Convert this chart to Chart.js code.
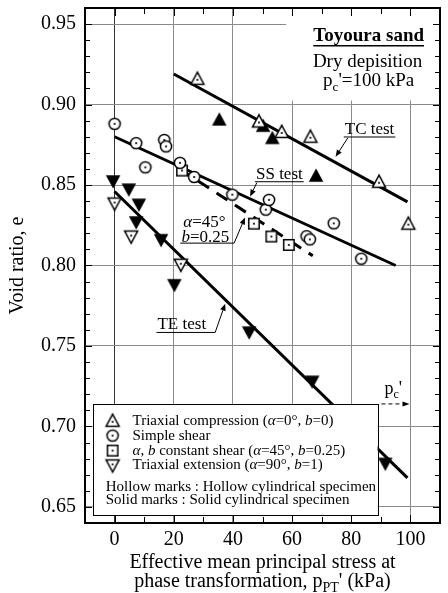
<!DOCTYPE html>
<html><head><meta charset="utf-8">
<script src="https://cdn.jsdelivr.net/npm/chart.js@4.4.1/dist/chart.umd.min.js"></script>
<style>html,body{margin:0;padding:0;background:#fff;}#wrap{width:448px;height:593px;}</style>
</head><body><div id="wrap"><canvas id="c" width="448" height="593"></canvas></div>
<script>
// ---- data ----
const xTickValues = [0, 20, 40, 60, 80, 100];
const yTickValues = [0.65, 0.70, 0.75, 0.80, 0.85, 0.90, 0.95];

const tcHollowX = [28.0, 48.8, 56.5, 66.2, 89.4, 99.3];
const tcHollowY = [0.916, 0.8895, 0.883, 0.880, 0.852, 0.826];
const tcSolidX = [35.4, 50.2, 53.3, 68.1];
const tcSolidY = [0.8905, 0.8866, 0.879, 0.8556];
const ssHollowX = [0.0, 7.3, 10.4, 16.8, 17.4, 22.1, 26.9, 39.8, 51.1, 52.2, 64.9, 66.0, 74.1, 83.4];
const ssHollowY = [0.888, 0.876, 0.861, 0.878, 0.874, 0.8638, 0.855, 0.844, 0.8347, 0.8408, 0.8182, 0.8162, 0.8262, 0.8042];
const abHollowX = [22.8, 47.1, 53.0, 58.9];
const abHollowY = [0.859, 0.826, 0.818, 0.8128];
const teHollowX = [0.0, 5.6, 22.4];
const teHollowY = [0.8385, 0.818, 0.8005];
const teSolidX = [-0.5, 4.8, 8.2, 7.3, 15.7, 20.2, 45.5, 66.8, 91.5];
const teSolidY = [0.8525, 0.8474, 0.838, 0.827, 0.816, 0.788, 0.7586, 0.728, 0.677];

const tcLineX = [20, 99];   const tcLineY = [0.919, 0.8395];
const ssLineX = [0, 95];    const ssLineY = [0.880, 0.800];
const abLineX = [22, 67];   const abLineY = [0.860, 0.806];
const teLineX = [0, 99];    const teLineY = [0.846, 0.668];

const legendLabels = [
  ['Triaxial compression (', {t:'α', it:1}, '=0°, ', {t:'b', it:1}, '=0)'],
  ['Simple shear'],
  [{t:'α', it:1}, ', ', {t:'b', it:1}, ' constant shear (', {t:'α', it:1}, '=45°, ', {t:'b', it:1}, '=0.25)'],
  ['Triaxial extension (', {t:'α', it:1}, '=90°, ', {t:'b', it:1}, '=1)']
];
const legendNotes = ['Hollow marks : Hollow cylindrical specimen', 'Solid marks : Solid cylindrical specimen'];

// ---- helpers ----
const FONT = '"Liberation Serif", "Times New Roman", serif';
const pts = (xs, ys) => xs.map((x, i) => ({x: x, y: ys[i]}));

function marker(shape, filled) {
  const s = 18, c = document.createElement('canvas');
  c.width = s; c.height = s;
  const g = c.getContext('2d');
  const cx = s / 2, cy = s / 2;
  g.lineWidth = 1.5; g.strokeStyle = '#000'; g.fillStyle = filled ? '#000' : '#fff';
  g.beginPath();
  if (shape === 'tri') {
    const w = filled ? 12 : 13, h = filled ? 11 : 12;
    g.moveTo(cx, cy - h * 0.55); g.lineTo(cx + w / 2, cy + h * 0.45); g.lineTo(cx - w / 2, cy + h * 0.45); g.closePath();
  } else if (shape === 'itri') {
    const w = filled ? 12 : 13, h = filled ? 11 : 12;
    g.moveTo(cx, cy + h * 0.55); g.lineTo(cx + w / 2, cy - h * 0.45); g.lineTo(cx - w / 2, cy - h * 0.45); g.closePath();
  } else if (shape === 'circ') {
    g.arc(cx, cy, 5.6, 0, Math.PI * 2);
  } else {
    g.rect(cx - 5.2, cy - 5.2, 10.4, 10.4);
  }
  g.fill(); g.stroke();
  if (!filled) {
    g.beginPath(); g.fillStyle = '#000';
    let dy = 0;
    if (shape === 'tri') dy = 1; if (shape === 'itri') dy = -1;
    g.arc(cx, cy + dy, 1.1, 0, Math.PI * 2); g.fill();
  }
  return c;
}
const M = {
  triH: marker('tri', false), triS: marker('tri', true),
  circH: marker('circ', false), sqH: marker('sq', false),
  itriH: marker('itri', false), itriS: marker('itri', true)
};

function rich(ctx, x, y, parts, size, align, bold) {
  const ps = parts.map(p => typeof p === 'string' ? {t: p} : p);
  const fontOf = p => (p.it ? 'italic ' : '') + (bold ? 'bold ' : '') + (p.sub ? Math.round(size * 0.68) : size) + 'px ' + FONT;
  let w = 0;
  ps.forEach(p => { ctx.font = fontOf(p); p.w = ctx.measureText(p.t).width; w += p.w; });
  let cx = align === 'center' ? x - w / 2 : (align === 'right' ? x - w : x);
  const x0 = cx;
  ctx.textAlign = 'left'; ctx.textBaseline = 'middle'; ctx.fillStyle = '#000';
  ps.forEach(p => {
    ctx.font = fontOf(p);
    ctx.fillText(p.t, cx, y + (p.sub ? size * 0.32 : 0));
    cx += p.w;
  });
  return {x0: x0, w: w};
}

function arrow(ctx, x1, y1, x2, y2, hl, hw, dash) {
  const a = Math.atan2(y2 - y1, x2 - x1);
  const bx = x2 - hl * Math.cos(a), by = y2 - hl * Math.sin(a);
  ctx.save();
  ctx.strokeStyle = '#000'; ctx.fillStyle = '#000'; ctx.lineWidth = 1;
  if (dash) ctx.setLineDash(dash);
  ctx.beginPath(); ctx.moveTo(x1, y1); ctx.lineTo(bx, by); ctx.stroke();
  ctx.setLineDash([]);
  ctx.beginPath();
  ctx.moveTo(x2, y2);
  ctx.lineTo(bx + hw * Math.sin(a), by - hw * Math.cos(a));
  ctx.lineTo(bx - hw * Math.sin(a), by + hw * Math.cos(a));
  ctx.closePath(); ctx.fill();
  ctx.restore();
}

function hline(ctx, x1, x2, y, lw) {
  ctx.save(); ctx.strokeStyle = '#000'; ctx.lineWidth = lw || 1;
  ctx.beginPath(); ctx.moveTo(x1, y); ctx.lineTo(x2, y); ctx.stroke(); ctx.restore();
}

const deco = {
  id: 'deco',
  beforeDatasetsDraw(chart) {
    const ctx = chart.ctx, X = v => chart.scales.x.getPixelForValue(v), Y = v => chart.scales.y.getPixelForValue(v);
    ctx.save(); ctx.fillStyle = '#fff';
    // blank panel behind the material note (top right)
    ctx.fillRect(X(58), Y(0.96), X(110) - X(58), Y(0.9025) - Y(0.96));
    ctx.restore();
  },
  afterDatasetsDraw(chart) {
    const ctx = chart.ctx, a = chart.chartArea;
    const X = v => chart.scales.x.getPixelForValue(v), Y = v => chart.scales.y.getPixelForValue(v);
    ctx.save();
    // minor / major ticks pointing inwards on all four sides
    ctx.strokeStyle = '#000'; ctx.lineWidth = 1;
    for (let i = 64; i <= 96; i++) {
      const py = Math.round(Y(i / 100)) + 0.5, len = (i % 5 === 0) ? 7 : 5;
      ctx.beginPath(); ctx.moveTo(a.left, py); ctx.lineTo(a.left + len, py);
      ctx.moveTo(a.right, py); ctx.lineTo(a.right - len, py); ctx.stroke();
    }
    for (let v = -10; v <= 110; v += 10) {
      const px = Math.round(X(v)) + 0.5, len = (v % 20 === 0) ? 8 : 6;
      ctx.beginPath(); ctx.moveTo(px, a.top); ctx.lineTo(px, a.top + len);
      ctx.moveTo(px, a.bottom); ctx.lineTo(px, a.bottom - len); ctx.stroke();
    }
    // frame
    ctx.lineWidth = 2;
    ctx.strokeRect(a.left, a.top, a.right - a.left, a.bottom - a.top);

    // material note
    let r = rich(ctx, X(85.9), Y(0.9427), ['Toyoura sand'], 19, 'center', true);
    hline(ctx, r.x0, r.x0 + r.w, Y(0.9427) + 10, 1.5);
    rich(ctx, X(85.5), Y(0.9267), ['Dry depisition'], 19, 'center');
    rich(ctx, X(85.9), Y(0.9144), ['p', {t: 'c', sub: 1}, "'=100 kPa"], 19, 'center');

    // TC test label
    r = rich(ctx, X(77.8), Y(0.8842), ['TC test'], 17, 'left');
    hline(ctx, r.x0 - 1, r.x0 + r.w + 1, Y(0.8842) + 7, 1);
    arrow(ctx, X(78.8), Y(0.8792), X(74.7), Y(0.8675), 7, 2.8);

    // SS test label
    r = rich(ctx, X(47.8), Y(0.8564), ['SS test'], 17, 'left');
    hline(ctx, r.x0 - 1, r.x0 + r.w + 1, Y(0.8564) + 7, 1);
    arrow(ctx, X(48.1), Y(0.8515), X(45.8), Y(0.8429), 7, 2.8);

    // alpha = 45, b = 0.25 label
    rich(ctx, X(23.2), Y(0.8268), [{t: 'α', it: 1}, '=45°'], 17, 'left');
    r = rich(ctx, X(22.6), Y(0.8176), [{t: 'b', it: 1}, '=0.25'], 17, 'left');
    hline(ctx, X(22.2), X(40.4), Y(0.8139), 1);
    arrow(ctx, X(40.4), Y(0.8139), X(44.1), Y(0.8299), 7, 2.8);

    // TE test label
    r = rich(ctx, X(14.5), Y(0.7633), ['TE test'], 17, 'left');
    hline(ctx, r.x0 - 1, X(34.0), Y(0.7584), 1);
    arrow(ctx, X(34.0), Y(0.7584), X(37.4), Y(0.7763), 7, 2.8);

    // p_c' marker
    rich(ctx, X(91.2), Y(0.7233), ['p', {t: 'c', sub: 1}, "'"], 18, 'left');
    arrow(ctx, X(90.2), Y(0.714), X(99.7), Y(0.714), 7, 2.5, [4, 3]);

    // legend box
    const lx0 = X(-7.4), lx1 = X(88.9), ly0 = Y(0.714), ly1 = Y(0.645);
    ctx.fillStyle = '#fff'; ctx.fillRect(lx0, ly0, lx1 - lx0, ly1 - ly0);
    ctx.lineWidth = 1; ctx.strokeStyle = '#000';
    ctx.strokeRect(Math.round(lx0) + 0.5, Math.round(ly0) + 0.5, Math.round(lx1 - lx0), Math.round(ly1 - ly0));
    const rowsY = [0.7035, 0.6943, 0.6850, 0.6758];
    const sym = [M.triH, M.circH, M.sqH, M.itriH];
    rowsY.forEach((v, i) => {
      const py = Y(v), s = sym[i];
      ctx.drawImage(s, X(-0.67) - s.width / 2, py - s.height / 2);
      rich(ctx, X(6.06), py, legendLabels[i], 15, 'left');
    });
    rich(ctx, X(-3.0), Y(0.6622), [legendNotes[0]], 15, 'left');
    rich(ctx, X(-3.0), Y(0.6542), [legendNotes[1]], 15, 'left');

    // axis titles
    const cxm = (a.left + a.right) / 2;
    rich(ctx, cxm, 563, ['Effective mean principal stress at'], 20, 'center');
    rich(ctx, cxm, 582, ['phase transformation, p', {t: 'PT', sub: 1}, "' (kPa)"], 20, 'center');
    ctx.save();
    ctx.translate(18, (a.top + a.bottom) / 2);
    ctx.rotate(-Math.PI / 2);
    rich(ctx, 0, 0, ['Void ratio, e'], 20, 'center');
    ctx.restore();
    ctx.restore();
  }
};

function lineDS(xs, ys, dash) {
  return {type: 'line', data: pts(xs, ys), showLine: true, borderColor: '#000', borderWidth: 3,
    borderDash: dash || [], pointRadius: 0, fill: false, order: 2, tension: 0};
}
function markDS(xs, ys, img) {
  return {type: 'scatter', data: pts(xs, ys), pointStyle: img, pointRadius: 7, order: 1};
}

new Chart(document.getElementById('c'), {
  type: 'scatter',
  data: {datasets: [
    lineDS(tcLineX, tcLineY), lineDS(ssLineX, ssLineY), lineDS(abLineX, abLineY, [13, 9]), lineDS(teLineX, teLineY),
    markDS(tcHollowX, tcHollowY, M.triH), markDS(tcSolidX, tcSolidY, M.triS),
    markDS(ssHollowX, ssHollowY, M.circH), markDS(abHollowX, abHollowY, M.sqH),
    markDS(teHollowX, teHollowY, M.itriH), markDS(teSolidX, teSolidY, M.itriS)
  ]},
  options: {
    responsive: false, animation: false, devicePixelRatio: 1,
    layout: {padding: {left: 0, right: 5, top: 4, bottom: 0}},
    plugins: {legend: {display: false}, tooltip: {enabled: false}},
    scales: {
      x: {type: 'linear', min: -10, max: 110,
        afterBuildTicks: s => { s.ticks = xTickValues.map(v => ({value: v})); },
        afterFit: s => { s.height = 70; s.paddingLeft = 0; s.paddingRight = 0; },
        ticks: {color: '#000', font: {family: FONT, size: 20}, padding: 5, maxRotation: 0, callback: v => String(v)},
        grid: {color: c => (c.tick && c.tick.value === 0) ? '#333' : '#8a8a8a', lineWidth: 1, drawTicks: false},
        border: {display: false}},
      y: {type: 'linear', min: 0.64, max: 0.96,
        afterBuildTicks: s => { s.ticks = yTickValues.map(v => ({value: v})); },
        afterFit: s => { s.width = 85; s.paddingTop = 0; s.paddingBottom = 0; },
        ticks: {color: '#000', font: {family: FONT, size: 20}, padding: 9, callback: v => Number(v).toFixed(2)},
        grid: {color: '#8a8a8a', lineWidth: 1, drawTicks: false},
        border: {display: false}}
    }
  },
  plugins: [deco]
});
</script></body></html>
